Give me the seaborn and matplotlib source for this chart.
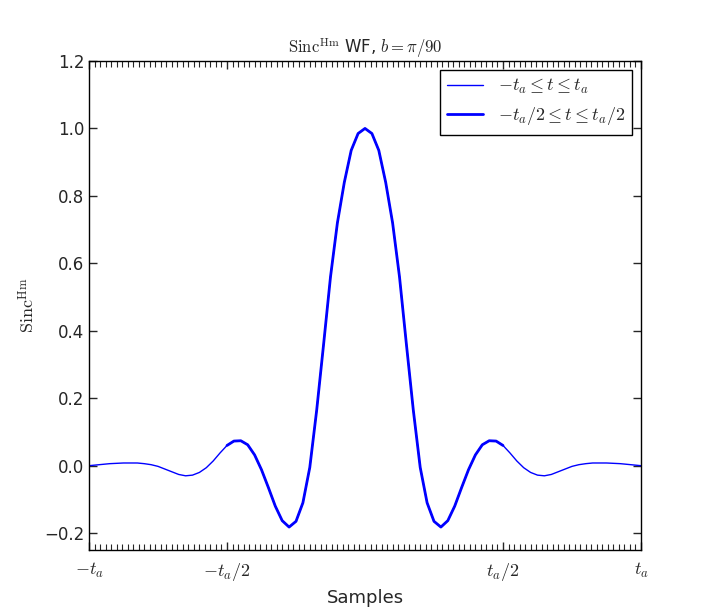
import matplotlib
matplotlib.use("Agg")
import matplotlib.pyplot as plt
import numpy as np
import pandas as pd
import seaborn as sns
from matplotlib.ticker import MultipleLocator

# left half of the curve (t / t_a from -1 to 0)
u_half = [-1.000, -0.975, -0.950, -0.925, -0.900, -0.875, -0.850, -0.825, -0.800, -0.775,
          -0.750, -0.725, -0.700, -0.675, -0.650, -0.625, -0.600, -0.575, -0.550, -0.525,
          -0.500, -0.475, -0.450, -0.425, -0.400, -0.375, -0.350, -0.325, -0.300, -0.275,
          -0.250, -0.225, -0.200, -0.175, -0.150, -0.125, -0.100, -0.075, -0.050, -0.025, 0.000]
y_half = [0.000, 0.002, 0.004, 0.006, 0.007, 0.008, 0.008, 0.008, 0.006, 0.003,
          -0.002, -0.010, -0.018, -0.026, -0.030, -0.028, -0.020, -0.006, 0.014, 0.038,
          0.060, 0.073, 0.074, 0.062, 0.032, -0.012, -0.065, -0.120, -0.163, -0.182,
          -0.165, -0.110, -0.005, 0.165, 0.360, 0.560, 0.720, 0.840, 0.935, 0.985, 1.000]

# the picture is symmetric about t = 0
u = np.array(u_half + [-v for v in u_half[-2::-1]])
y = np.array(y_half + y_half[-2::-1])
df = pd.DataFrame({"u": u, "y": y})
inner = df[df["u"].abs() <= 0.5]

sns.set_style("white")
plt.rcParams["mathtext.fontset"] = "cm"

fig = plt.figure(figsize=(7.12, 6.12), dpi=100)
ax = fig.add_axes([89 / 712, 62 / 612, 552 / 712, 489 / 612])

sns.lineplot(data=df, x="u", y="y", ax=ax, color="blue", linewidth=1,
             label=r"$-t_a \leq t \leq t_a$")
sns.lineplot(data=inner, x="u", y="y", ax=ax, color="blue", linewidth=2,
             label=r"$-t_a/2 \leq t \leq t_a/2$")

ax.set_xlim(-1, 1)
ax.set_ylim(-0.25, 1.2)
ax.set_xticks([-1, -0.5, 0.5, 1])
ax.set_xticklabels([r"$-t_a$", r"$-t_a/2$", r"$t_a/2$", r"$t_a$"], fontsize=13)
ax.xaxis.set_minor_locator(MultipleLocator(0.02))
ax.set_yticks(np.arange(-0.2, 1.21, 0.2))
ax.set_yticklabels([f"{v:.1f}".replace("-", "\u2212") for v in np.arange(-0.2, 1.21, 0.2)],
                   fontsize=12)
ax.tick_params(which="both", direction="in", top=True, right=True, bottom=True, left=True)
ax.tick_params(which="major", length=6, width=1)
ax.tick_params(which="minor", length=4, width=0.8)
ax.tick_params(axis="x", pad=8)
for s in ax.spines.values():
    s.set_color("black")
    s.set_linewidth(1)

ax.set_xlabel("Samples", fontsize=13)
ax.set_ylabel(r"$\mathrm{Sinc}^{\mathrm{Hm}}$", fontsize=13)
ax.set_title(r"$\mathrm{Sinc}^{\mathrm{Hm}}$ WF, $b=\pi/90$", fontsize=12)
leg = ax.legend(loc="upper right", fontsize=13, frameon=True, fancybox=False,
                edgecolor="black", framealpha=1)
leg.get_frame().set_linewidth(1)

fig.savefig("out.png", dpi=100)
